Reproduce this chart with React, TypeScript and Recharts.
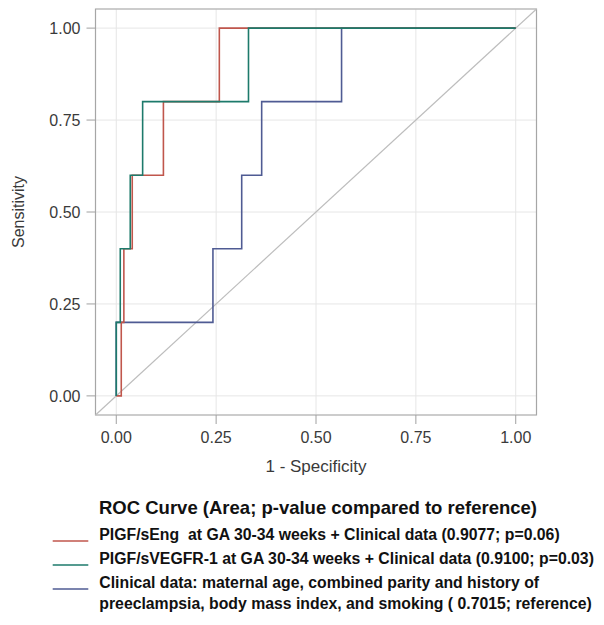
import React from 'react'
import { LineChart, Line, XAxis, YAxis, CartesianGrid, ReferenceLine, ReferenceArea, Label } from 'recharts'

// ROC step corners (1 - specificity, sensitivity)
const sengFpr = [0, 0.0125, 0.019, 0.04, 0.118, 0.258, 1]
const sengTpr = [0, 0.2, 0.4, 0.6, 0.8, 1, 1]

const vegfrFpr = [0, 0, 0.01, 0.035, 0.066, 0.331, 1]
const vegfrTpr = [0, 0.2, 0.4, 0.6, 0.8, 1, 1]

const clinFpr = [0, 0, 0.242, 0.314, 0.364, 0.564, 1]
const clinTpr = [0, 0.2, 0.4, 0.6, 0.8, 1, 1]

const axisTicks = [0, 0.25, 0.5, 0.75, 1]
const axisDomain = [-0.052, 1.052]

const legendTitle = 'ROC Curve (Area; p-value compared to reference)'

const series = [
  {
    key: 'clin',
    color: '#4f5b93',
    fpr: clinFpr,
    tpr: clinTpr,
    label: [
      'Clinical data: maternal age, combined parity and history of',
      'preeclampsia, body mass index, and smoking ( 0.7015; reference)',
    ],
  },
  {
    key: 'seng',
    color: '#c0564c',
    fpr: sengFpr,
    tpr: sengTpr,
    label: ['PIGF/sEng  at GA 30-34 weeks + Clinical data (0.9077; p=0.06)'],
  },
  {
    key: 'vegfr',
    color: '#1d7a6b',
    fpr: vegfrFpr,
    tpr: vegfrTpr,
    label: ['PIGF/sVEGFR-1 at GA 30-34 weeks + Clinical data (0.9100; p=0.03)'],
  },
]

const legendOrder = ['seng', 'vegfr', 'clin']

const toPoints = (fpr: number[], tpr: number[]) => fpr.map((x, i) => ({ fpr: x, tpr: tpr[i] }))

const font = '"Liberation Sans", Arial, sans-serif'
const tickStyle = { fontSize: 16, fill: '#3a3a3a', fontFamily: font }

export default function App() {
  // baselines of legend rows, in chart coords
  let y = 532
  const rows: any[] = []
  legendOrder.forEach((k) => {
    const s = series.find((d) => d.key === k)!
    rows.push({ s, y })
    y += 24 * s.label.length
  })

  return (
    <div style={{ position: 'relative', width: 588, height: 609, fontFamily: font }}>
      <LineChart width={588} height={609} margin={{ top: 1, right: 59.5, left: 0, bottom: 0 }}>
        <CartesianGrid stroke="#e6e6e6" />
        <XAxis
          type="number"
          dataKey="fpr"
          domain={axisDomain}
          ticks={axisTicks}
          tickFormatter={(v: number) => v.toFixed(2)}
          allowDataOverflow
          axisLine={false}
          tickSize={9}
          tickMargin={8}
          tickLine={{ stroke: '#a0a0a0' }}
          tick={tickStyle}
          height={202}
        >
          <Label
            content={({ viewBox }: any) => (
              <text x={viewBox.x + viewBox.width / 2} y={viewBox.y + 57} textAnchor="middle" fontSize={17} fill="#3a3a3a" fontFamily={font}>
                1 - Specificity
              </text>
            )}
          />
        </XAxis>
        <YAxis
          type="number"
          domain={axisDomain}
          ticks={axisTicks}
          tickFormatter={(v: number) => v.toFixed(2)}
          allowDataOverflow
          axisLine={false}
          tickSize={9}
          tickMargin={6}
          tickLine={{ stroke: '#a0a0a0' }}
          tick={tickStyle}
          width={87.5}
        >
          <Label
            content={({ viewBox }: any) => {
              const cx = 16
              const cy = viewBox.y + viewBox.height / 2
              return (
                <text x={cx} y={cy} transform={`rotate(-90 ${cx} ${cy})`} textAnchor="middle" fontSize={16} fill="#3a3a3a" fontFamily={font}>
                  Sensitivity
                </text>
              )
            }}
          />
        </YAxis>
        <ReferenceArea x1={axisDomain[0]} x2={axisDomain[1]} y1={axisDomain[0]} y2={axisDomain[1]} fill="none" stroke="#a6a6a6" strokeWidth={1.2} />
        <ReferenceLine
          segment={[
            { x: axisDomain[0], y: axisDomain[0] },
            { x: axisDomain[1], y: axisDomain[1] },
          ]}
          stroke="#bdbdbd"
          strokeWidth={1.2}
        />
        {series.map((s) => (
          <Line
            key={s.key}
            data={toPoints(s.fpr, s.tpr)}
            dataKey="tpr"
            type="stepAfter"
            stroke={s.color}
            strokeWidth={1.6}
            dot={false}
            activeDot={false}
            isAnimationActive={false}
          />
        ))}
      </LineChart>
      <svg width={588} height={609} style={{ position: 'absolute', left: 0, top: 0, pointerEvents: 'none', overflow: 'visible' }}>
        <text x={91} y={506} fontSize={18.5} fontWeight="bold" fill="#111" fontFamily={font}>
          {legendTitle}
        </text>
        {rows.map(({ s, y }) => (
          <g key={s.key}>
            <line x1={44.7} x2={80.3} y1={y + 1} y2={y + 1} stroke={s.color} strokeWidth={1.6} />
            {s.label.map((t: string, i: number) => (
              <text key={i} x={91.3} y={y + i * 21} fontSize={15.8} fontWeight="bold" fill="#111" fontFamily={font} style={{ whiteSpace: 'pre' }}>
                {t}
              </text>
            ))}
          </g>
        ))}
      </svg>
    </div>
  )
}
